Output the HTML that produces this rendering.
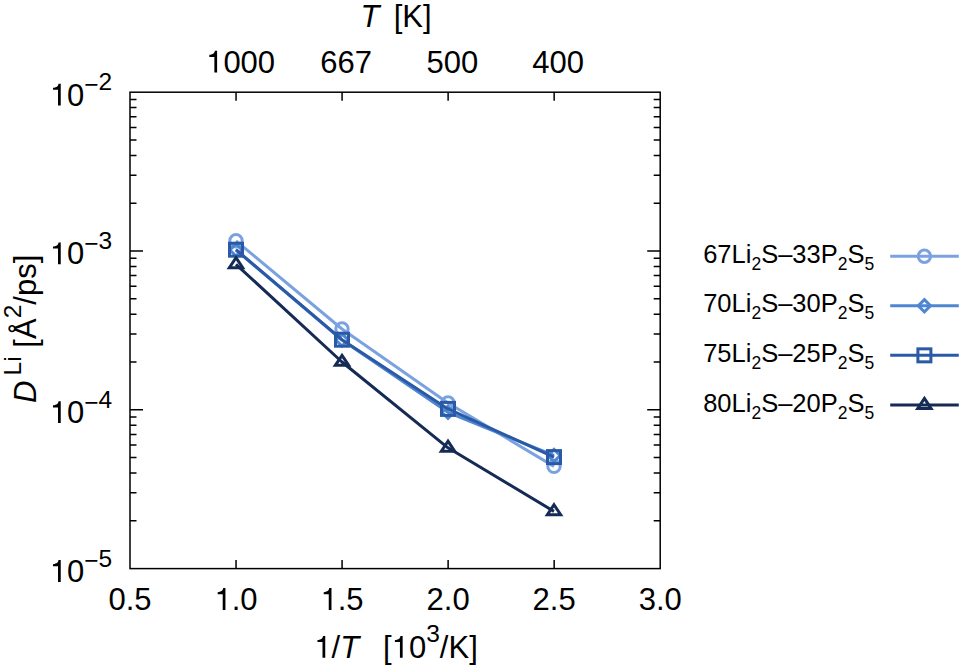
<!DOCTYPE html><html><head><meta charset="utf-8"><style>html,body{margin:0;padding:0;background:#fff;overflow:hidden;}svg{display:block;}text{font-family:"Liberation Sans",sans-serif;fill:#000;}</style></head><body>
<svg width="962" height="668" viewBox="0 0 962 668">
<path d="M236.04 568.60V560.00M342.08 568.60V560.00M448.12 568.60V560.00M554.16 568.60V560.00M236.04 92.20V100.80M342.08 92.20V100.80M448.12 92.20V100.80M554.16 92.20V100.80M130.0 251.00H143.00M660.2 251.00H647.20M130.0 409.80H143.00M660.2 409.80H647.20M130.0 203.20H136.50M660.2 203.20H653.70M130.0 175.23H136.50M660.2 175.23H653.70M130.0 155.39H136.50M660.2 155.39H653.70M130.0 140.00H136.50M660.2 140.00H653.70M130.0 127.43H136.50M660.2 127.43H653.70M130.0 116.80H136.50M660.2 116.80H653.70M130.0 107.59H136.50M660.2 107.59H653.70M130.0 99.47H136.50M660.2 99.47H653.70M130.0 362.00H136.50M660.2 362.00H653.70M130.0 334.03H136.50M660.2 334.03H653.70M130.0 314.19H136.50M660.2 314.19H653.70M130.0 298.80H136.50M660.2 298.80H653.70M130.0 286.23H136.50M660.2 286.23H653.70M130.0 275.60H136.50M660.2 275.60H653.70M130.0 266.39H136.50M660.2 266.39H653.70M130.0 258.27H136.50M660.2 258.27H653.70M130.0 520.80H136.50M660.2 520.80H653.70M130.0 492.83H136.50M660.2 492.83H653.70M130.0 472.99H136.50M660.2 472.99H653.70M130.0 457.60H136.50M660.2 457.60H653.70M130.0 445.03H136.50M660.2 445.03H653.70M130.0 434.40H136.50M660.2 434.40H653.70M130.0 425.19H136.50M660.2 425.19H653.70M130.0 417.07H136.50M660.2 417.07H653.70" stroke="#000" stroke-width="1.5" fill="none"/>
<rect x="130.0" y="92.2" width="530.2" height="476.40000000000003" fill="none" stroke="#000" stroke-width="1.5"/>
<text x="240.64" y="72.6" font-size="31.0" text-anchor="middle">&#8199;000</text>
<text x="346.08" y="72.6" font-size="31.0" text-anchor="middle">667</text>
<text x="452.42" y="72.6" font-size="31.0" text-anchor="middle">500</text>
<text x="558.16" y="72.6" font-size="31.0" text-anchor="middle">400</text>
<text x="360.5" y="26.6" font-size="31.0"><tspan font-style="italic">T</tspan><tspan x="393.7">[K]</tspan></text>
<text x="130.00" y="609.9" font-size="31.0" text-anchor="middle">0.5</text>
<text x="236.04" y="609.9" font-size="31.0" text-anchor="middle">&#8199;.0</text>
<text x="342.08" y="609.9" font-size="31.0" text-anchor="middle">&#8199;.5</text>
<text x="448.12" y="609.9" font-size="31.0" text-anchor="middle">2.0</text>
<text x="554.16" y="609.9" font-size="31.0" text-anchor="middle">2.5</text>
<text x="660.20" y="609.9" font-size="31.0" text-anchor="middle">3.0</text>
<text x="314.3" y="657.7" font-size="31.0">&#8199;/<tspan font-style="italic">T</tspan><tspan x="383.1">[&#8199;0</tspan><tspan font-size="24.5" dy="-15.5">3</tspan><tspan dy="15.5">/K]</tspan></text>
<text x="49.8" y="105.50" font-size="31.0">&#8199;0<tspan font-size="24.5" dy="-12.5">−</tspan><tspan font-size="24.5" dy="-2.8">2</tspan></text>
<text x="49.8" y="264.30" font-size="31.0">&#8199;0<tspan font-size="24.5" dy="-12.5">−</tspan><tspan font-size="24.5" dy="-2.8">3</tspan></text>
<text x="49.8" y="423.10" font-size="31.0">&#8199;0<tspan font-size="24.5" dy="-12.5">−</tspan><tspan font-size="24.5" dy="-2.8">4</tspan></text>
<text x="49.8" y="581.90" font-size="31.0">&#8199;0<tspan font-size="24.5" dy="-12.5">−</tspan><tspan font-size="24.5" dy="-2.8">5</tspan></text>
<text transform="translate(36.3,403) rotate(-90)" font-size="31.0"><tspan font-style="italic">D</tspan><tspan font-size="24.5" dy="-15.5" dx="5.2">Li</tspan><tspan dy="15.5" dx="8.7">[Å</tspan><tspan font-size="24.5" dy="-15">2</tspan><tspan dy="15">/ps]</tspan></text>
<polyline points="236,240.8 342,329.0 448,403.0 554,466.4" fill="none" stroke="#7ba2e0" stroke-width="3.0" stroke-linejoin="round"/>
<circle cx="236" cy="240.8" r="6.2" fill="none" stroke="#7ba2e0" stroke-width="3.0"/>
<circle cx="342" cy="329.0" r="6.2" fill="none" stroke="#7ba2e0" stroke-width="3.0"/>
<circle cx="448" cy="403.0" r="6.2" fill="none" stroke="#7ba2e0" stroke-width="3.0"/>
<circle cx="554" cy="466.4" r="6.2" fill="none" stroke="#7ba2e0" stroke-width="3.0"/>
<polyline points="236,250.0 342,340.0 448,412.3 554,455.5" fill="none" stroke="#4f86d3" stroke-width="3.0" stroke-linejoin="round"/>
<path d="M236 243.9L242.1 250.0L236 256.1L229.9 250.0Z" fill="none" stroke="#4f86d3" stroke-width="3.0"/>
<path d="M342 333.9L348.1 340.0L342 346.1L335.9 340.0Z" fill="none" stroke="#4f86d3" stroke-width="3.0"/>
<path d="M448 406.2L454.1 412.3L448 418.40000000000003L441.9 412.3Z" fill="none" stroke="#4f86d3" stroke-width="3.0"/>
<path d="M554 449.4L560.1 455.5L554 461.6L547.9 455.5Z" fill="none" stroke="#4f86d3" stroke-width="3.0"/>
<polyline points="236,249.7 342,339.7 448,408.9 554,457.1" fill="none" stroke="#2a5aa6" stroke-width="3.0" stroke-linejoin="round"/>
<rect x="229.5" y="243.2" width="13.0" height="13.0" fill="none" stroke="#2a5aa6" stroke-width="3.0"/>
<rect x="335.5" y="333.2" width="13.0" height="13.0" fill="none" stroke="#2a5aa6" stroke-width="3.0"/>
<rect x="441.5" y="402.4" width="13.0" height="13.0" fill="none" stroke="#2a5aa6" stroke-width="3.0"/>
<rect x="547.5" y="450.6" width="13.0" height="13.0" fill="none" stroke="#2a5aa6" stroke-width="3.0"/>
<polyline points="236,264.3 342,362.0 448,447.8 554,511.4" fill="none" stroke="#152b55" stroke-width="3.0" stroke-linejoin="round"/>
<path d="M236 257.63L242.66 267.63L229.34 267.63Z" fill="none" stroke="#152b55" stroke-width="3.0"/>
<path d="M342 355.33L348.67 365.33L335.33 365.33Z" fill="none" stroke="#152b55" stroke-width="3.0"/>
<path d="M448 441.13L454.67 451.13L441.33 451.13Z" fill="none" stroke="#152b55" stroke-width="3.0"/>
<path d="M554 504.73L560.66 514.74L547.34 514.74Z" fill="none" stroke="#152b55" stroke-width="3.0"/>
<text x="703.2" y="262.70" font-size="25.5">67Li<tspan font-size="17.5" dy="7">2</tspan><tspan dy="-7">S–33P</tspan><tspan font-size="17.5" dy="7">2</tspan><tspan dy="-7">S</tspan><tspan font-size="17.5" dy="7">5</tspan></text>
<line x1="890.2" y1="256.2" x2="958.8" y2="256.2" stroke="#7ba2e0" stroke-width="3.0"/>
<circle cx="924.4" cy="256.2" r="6.2" fill="none" stroke="#7ba2e0" stroke-width="3.0"/>
<text x="703.2" y="312.25" font-size="25.5">70Li<tspan font-size="17.5" dy="7">2</tspan><tspan dy="-7">S–30P</tspan><tspan font-size="17.5" dy="7">2</tspan><tspan dy="-7">S</tspan><tspan font-size="17.5" dy="7">5</tspan></text>
<line x1="890.2" y1="305.75" x2="958.8" y2="305.75" stroke="#4f86d3" stroke-width="3.0"/>
<path d="M924.4 299.65L930.5 305.75L924.4 311.85L918.3 305.75Z" fill="none" stroke="#4f86d3" stroke-width="3.0"/>
<text x="703.2" y="361.85" font-size="25.5">75Li<tspan font-size="17.5" dy="7">2</tspan><tspan dy="-7">S–25P</tspan><tspan font-size="17.5" dy="7">2</tspan><tspan dy="-7">S</tspan><tspan font-size="17.5" dy="7">5</tspan></text>
<line x1="890.2" y1="355.35" x2="958.8" y2="355.35" stroke="#2a5aa6" stroke-width="3.0"/>
<rect x="917.9" y="348.85" width="13.0" height="13.0" fill="none" stroke="#2a5aa6" stroke-width="3.0"/>
<text x="703.2" y="411.60" font-size="25.5">80Li<tspan font-size="17.5" dy="7">2</tspan><tspan dy="-7">S–20P</tspan><tspan font-size="17.5" dy="7">2</tspan><tspan dy="-7">S</tspan><tspan font-size="17.5" dy="7">5</tspan></text>
<line x1="890.2" y1="405.1" x2="958.8" y2="405.1" stroke="#152b55" stroke-width="3.0"/>
<path d="M924.4 398.44L931.06 408.44L917.74 408.44Z" fill="none" stroke="#152b55" stroke-width="3.0"/>
<path d="M217.10 72.60L217.10 50.81L214.87 50.81C214.65 52.91 213.35 54.56 209.35 54.87L209.35 56.91L214.37 56.91L214.37 72.60Z" fill="#000"/>
<path d="M225.44 609.90L225.44 588.11L223.20 588.11C222.99 590.22 221.68 591.86 217.69 592.17L217.69 594.21L222.71 594.21L222.71 609.90Z" fill="#000"/>
<path d="M331.48 609.90L331.48 588.11L329.24 588.11C329.03 590.22 327.72 591.86 323.73 592.17L323.73 594.21L328.75 594.21L328.75 609.90Z" fill="#000"/>
<path d="M325.24 657.70L325.24 635.91L323.01 635.91C322.79 638.02 321.49 639.66 317.49 639.97L317.49 642.01L322.51 642.01L322.51 657.70Z" fill="#000"/>
<path d="M402.66 657.70L402.66 635.91L400.42 635.91C400.21 638.02 398.90 639.66 394.91 639.97L394.91 642.01L399.93 642.01L399.93 657.70Z" fill="#000"/>
<path d="M60.74 105.50L60.74 83.71L58.51 83.71C58.29 85.81 56.99 87.46 52.99 87.77L52.99 89.81L58.02 89.81L58.02 105.50Z" fill="#000"/>
<path d="M60.74 264.30L60.74 242.51L58.51 242.51C58.29 244.62 56.99 246.26 52.99 246.57L52.99 248.61L58.02 248.61L58.02 264.30Z" fill="#000"/>
<path d="M60.74 423.10L60.74 401.31L58.51 401.31C58.29 403.42 56.99 405.06 52.99 405.37L52.99 407.41L58.02 407.41L58.02 423.10Z" fill="#000"/>
<path d="M60.74 581.90L60.74 560.11L58.51 560.11C58.29 562.22 56.99 563.86 52.99 564.17L52.99 566.21L58.02 566.21L58.02 581.90Z" fill="#000"/>
</svg></body></html>
